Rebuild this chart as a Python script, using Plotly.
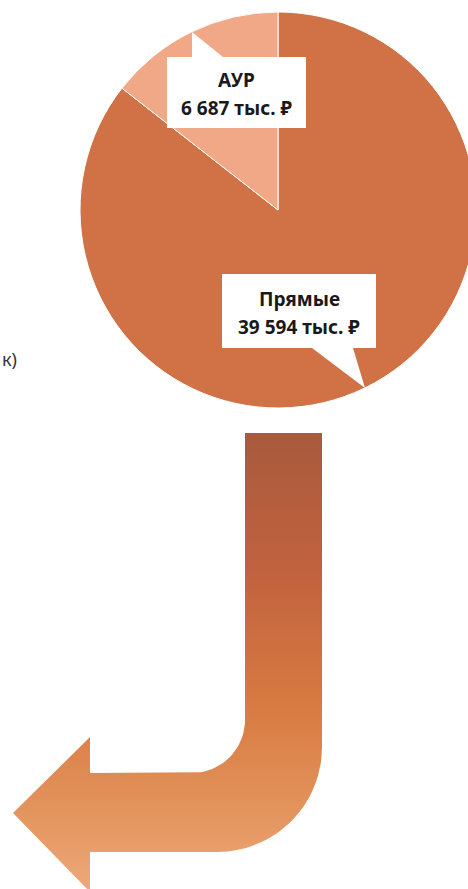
import numpy as np
import plotly.graph_objects as go

# ---- data ----
labels = ["АУР", "Прямые"]
values = [6687, 39594]
slice_colors = ["#F0A887", "#D07246"]
unit = "тыс. ₽"

W, H = 560, 889

def fmt(v):
    return f"{v:,}".replace(",", " ")

fig = go.Figure()

# hidden pixel-space axes for decoration
fig.update_layout(
    xaxis=dict(range=[0, W], visible=False, domain=[0, 1], fixedrange=True),
    yaxis=dict(range=[H, 0], visible=False, domain=[0, 1], fixedrange=True),
)

# ---- J-shaped arrow (decoration) ----
def arc(cx, cy, r, a0, a1, n=30):
    t = np.linspace(np.radians(a0), np.radians(a1), n)
    return cx + r * np.cos(t), cy + r * np.sin(t)

xs, ys = [], []
def add(x, y):
    xs.extend(np.atleast_1d(x)); ys.extend(np.atleast_1d(y))

ro, ri = 105, 53
add(245, 433); add(322, 433); add(322, 852 - ro)
ax_, ay_ = arc(322 - ro, 852 - ro, ro, 0, 90); add(ax_, ay_)
add(90, 852); add(90, 892); add(13, 813); add(90, 737); add(90, 773)
add(245 - ri, 773)
ax_, ay_ = arc(245 - ri, 773 - ri, ri, 90, 0); add(ax_, ay_)
add(245, 433)

fig.add_trace(go.Scatter(
    x=xs, y=ys, mode="lines", fill="toself", line=dict(width=0, color="rgba(0,0,0,0)"),
    fillgradient=dict(type="vertical", start=433, stop=892,
                      colorscale=[[0, "#A85A3D"], [0.3, "#C1623F"], [0.6, "#D77B42"],
                                  [0.8, "#E2915A"], [1, "#EEA97A"]]),
    hoverinfo="skip", showlegend=False,
))

# ---- pie ----
cx, cy, r = 278, 210, 198
fig.add_trace(go.Pie(
    labels=labels[::-1], values=values[::-1], sort=False, direction="clockwise", rotation=0,
    marker=dict(colors=slice_colors[::-1], line=dict(color="white", width=1)),
    textinfo="none", hoverinfo="label+value", showlegend=False,
    domain=dict(x=[(cx - r) / W, (cx + r) / W], y=[1 - (cy + r) / H, 1 - (cy - r) / H]),
))

# ---- callouts ----
callouts = [
    dict(box=(167, 57, 306, 128), path="M167,57 L192,57 L192,32 L223,57 L306,57 L306,128 L167,128 Z",
         y1=80, y2=108),
    dict(box=(222, 274, 376, 348), path="M222,274 L376,274 L376,348 L353,348 L365,388 L312,348 L222,348 Z",
         y1=299, y2=327),
]
for i, c in enumerate(callouts):
    fig.add_shape(type="path", path=c["path"], xref="x", yref="y",
                  fillcolor="white", line=dict(width=0), layer="above")
    xc = (c["box"][0] + c["box"][2]) / 2
    fig.add_annotation(x=xc, y=c["y1"], xref="x", yref="y", text=f"<b>{labels[i]}</b>",
                       showarrow=False, font=dict(family="Noto Sans", size=19, color="#1a1a1a"))
    fig.add_annotation(x=xc, y=c["y2"], xref="x", yref="y", text=f"<b>{fmt(values[i])} {unit}</b>",
                       showarrow=False, font=dict(family="Noto Sans", size=19, color="#1a1a1a"))

# partial text at left edge
fig.add_annotation(x=0, y=359, xref="x", yref="y", text="к)", xanchor="left",
                   showarrow=False, font=dict(family="Noto Sans", size=18, color="#333333"))

fig.update_layout(
    width=W, height=H, autosize=False,
    margin=dict(l=0, r=0, t=0, b=0),
    paper_bgcolor="white", plot_bgcolor="white",
)

fig.write_html("out.html", config={"displayModeBar": False},
               post_script="document.body.style.margin='0';document.body.style.overflow='hidden';document.documentElement.style.overflow='hidden';")
